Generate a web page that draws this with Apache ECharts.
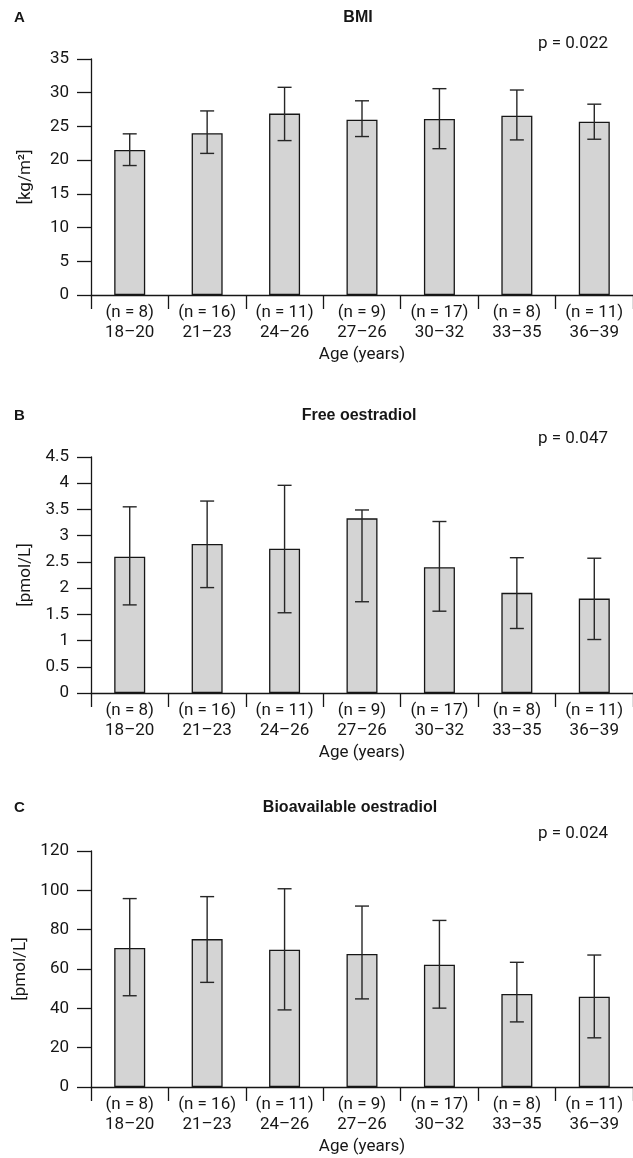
<!DOCTYPE html>
<html><head><meta charset="utf-8">
<script src="https://cdn.jsdelivr.net/npm/echarts@6/dist/echarts.min.js"></script>
<style>html,body{margin:0;padding:0;background:#fff}#c{width:633px;height:1158px}</style>
</head><body><div id="c"></div>
<script>
// ---- data ----
const ageGroups = ['18–20','21–23','24–26','27–26','30–32','33–35','36–39'];
const groupN = [8, 16, 11, 9, 17, 8, 11];

const bmiMean  = [21.5, 24.0, 26.9, 26.0, 26.1, 26.6, 25.7];
const bmiLow   = [19.2, 21.0, 22.9, 23.5, 21.7, 23.0, 23.1];
const bmiHigh  = [23.9, 27.3, 30.8, 28.8, 30.6, 30.4, 28.3];

const freeMean = [2.60, 2.84, 2.75, 3.33, 2.40, 1.91, 1.80];
const freeLow  = [1.68, 2.01, 1.53, 1.74, 1.56, 1.23, 1.02];
const freeHigh = [3.55, 3.66, 3.96, 3.49, 3.27, 2.58, 2.57];

const bioMean  = [70.7, 75.2, 69.8, 67.6, 62.2, 47.3, 45.9];
const bioLow   = [46.4, 53.2, 39.2, 44.8, 40.1, 33.1, 25.0];
const bioHigh  = [95.8, 96.8, 100.8, 92.0, 84.7, 63.4, 67.1];

const panelLetters = ['A', 'B', 'C'];
const panelTitles = ['BMI', 'Free oestradiol', 'Bioavailable oestradiol'];
const pValues = ['p = 0.022', 'p = 0.047', 'p = 0.024'];
const yUnits = ['[kg/m²]', '[pmol/L]', '[pmol/L]'];
const yMax = [35, 4.5, 120];
const yStep = [5, 0.5, 20];
const xName = 'Age (years)';

const means = [bmiMean, freeMean, bioMean];
const lows = [bmiLow, freeLow, bioLow];
const highs = [bmiHigh, freeHigh, bioHigh];

// ---- layout / style ----
const gridTop = [59, 457, 851];
const gridHeight = 236;
const titleY = [18, 416, 808];
const titleX = [358, 359, 350];
const pY = [44, 439, 834];

const FONT = "Roboto, 'Liberation Sans', sans-serif";
const BOLD = "'Liberation Sans', Arial, sans-serif";
const INK = '#161616';
const FS = 17;
const lineStyle = { color: INK, width: 1.3 };

const xLabels = ageGroups.map((g, i) => '(n = ' + groupN[i] + ')\n' + g);

const grids = [], xAxes = [], yAxes = [], series = [], graphics = [];

function renderErr(params, api) {
  const x = api.value(0);
  const lo = api.coord([x, api.value(1)]);
  const hi = api.coord([x, api.value(2)]);
  const hw = 7;
  const st = { stroke: '#262626', lineWidth: 1.4 };
  return {
    type: 'group',
    children: [
      { type: 'line', shape: { x1: lo[0], y1: lo[1], x2: hi[0], y2: hi[1] }, style: st },
      { type: 'line', shape: { x1: lo[0] - hw, y1: lo[1], x2: lo[0] + hw, y2: lo[1] }, style: st },
      { type: 'line', shape: { x1: hi[0] - hw, y1: hi[1], x2: hi[0] + hw, y2: hi[1] }, style: st }
    ]
  };
}

for (let k = 0; k < 3; k++) {
  grids.push({ left: 91, right: 0, top: gridTop[k], height: gridHeight, containLabel: false });
  xAxes.push({
    type: 'category', gridIndex: k, data: xLabels,
    axisLine: { show: true, lineStyle: lineStyle },
    axisTick: { show: true, length: 14, lineStyle: lineStyle },
    axisLabel: { interval: 0, margin: 8, lineHeight: 20, fontSize: FS, fontFamily: FONT, color: INK },
    name: xName, nameLocation: 'middle', nameGap: 51,
    nameTextStyle: { fontSize: FS, fontFamily: FONT, color: INK },
    splitLine: { show: false }
  });
  yAxes.push({
    type: 'value', gridIndex: k, min: 0, max: yMax[k], interval: yStep[k],
    axisLine: { show: true, lineStyle: lineStyle },
    axisTick: { show: true, length: 14, lineStyle: lineStyle },
    axisLabel: { margin: 22, fontSize: FS, fontFamily: FONT, color: INK },
    splitLine: { show: false },
    name: yUnits[k], nameLocation: 'middle', nameGap: 57,
    nameTextStyle: { fontSize: FS, fontFamily: FONT, color: INK }
  });
  series.push({
    type: 'bar', xAxisIndex: k, yAxisIndex: k, data: means[k], barWidth: 31,
    itemStyle: { color: '#d4d4d4', borderColor: INK, borderWidth: 1.3 },
    silent: true, animation: false
  });
  series.push({
    type: 'custom', xAxisIndex: k, yAxisIndex: k, renderItem: renderErr,
    encode: { x: 0, y: [1, 2] },
    data: means[k].map((m, i) => [i, lows[k][i], highs[k][i]]),
    z: 5, silent: true, animation: false
  });
  graphics.push({
    type: 'text', x: 14, y: titleY[k],
    style: { text: panelLetters[k], font: 'bold 15px ' + BOLD, fill: INK, align: 'left', verticalAlign: 'middle', textAlign: 'left', textVerticalAlign: 'middle' }
  });
  graphics.push({
    type: 'text', x: titleX[k], y: titleY[k],
    style: { text: panelTitles[k], font: 'bold 16px ' + BOLD, fill: INK, align: 'center', verticalAlign: 'middle', textAlign: 'center', textVerticalAlign: 'middle' }
  });
  graphics.push({
    type: 'text', x: 608, y: pY[k],
    style: { text: pValues[k], font: FS + 'px ' + FONT, fill: INK, align: 'right', verticalAlign: 'middle', textAlign: 'right', textVerticalAlign: 'middle' }
  });
}

const chart = echarts.init(document.getElementById('c'), null, { renderer: 'canvas' });
chart.setOption({
  animation: false,
  backgroundColor: '#ffffff',
  grid: grids, xAxis: xAxes, yAxis: yAxes, series: series, graphic: graphics
});
</script>
</body></html>
